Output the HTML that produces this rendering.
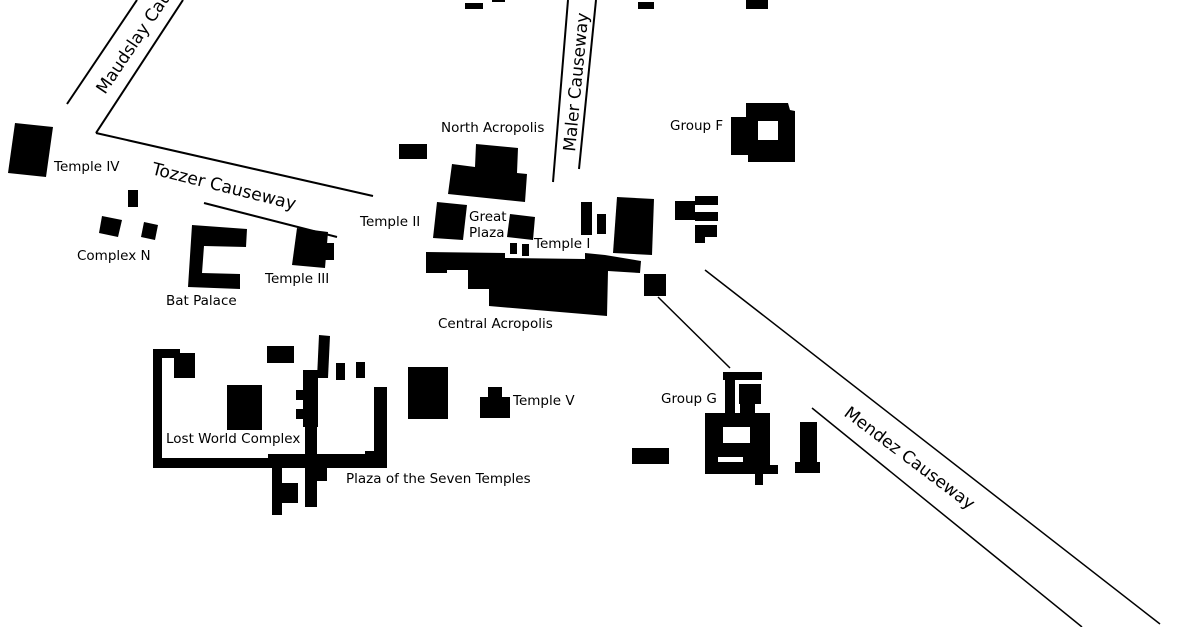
<!DOCTYPE html>
<html><head><meta charset="utf-8"><style>
html,body{margin:0;padding:0;background:#fff;}
svg{display:block}
.l{font-family:"DejaVu Sans","Liberation Sans",sans-serif;font-size:13.5px;fill:#000}
.c{font-family:"DejaVu Sans","Liberation Sans",sans-serif;font-size:17px;font-weight:normal;fill:#000}
</style></head><body>
<svg width="1200" height="627" viewBox="0 0 1200 627" xmlns="http://www.w3.org/2000/svg">
<rect width="1200" height="627" fill="#fff"/>
<g stroke="#000" fill="none" stroke-linecap="butt">
<line x1="67" y1="104" x2="137" y2="0" stroke-width="2"/>
<line x1="96" y1="133" x2="183" y2="0" stroke-width="2"/>
<line x1="96" y1="133" x2="373" y2="196" stroke-width="2"/>
<line x1="204" y1="203" x2="337" y2="237" stroke-width="2"/>
<line x1="553" y1="182" x2="568" y2="0" stroke-width="2"/>
<line x1="579" y1="169" x2="596" y2="0" stroke-width="2"/>
<line x1="705" y1="270" x2="1160" y2="624" stroke-width="1.5"/>
<line x1="812" y1="408" x2="1082" y2="627" stroke-width="1.5"/>
<line x1="658" y1="297" x2="730" y2="368" stroke-width="1.5"/>
</g>
<g fill="#000">
<rect x="465" y="3" width="18" height="6"/>
<rect x="492" y="0" width="13" height="2"/>
<rect x="638" y="2" width="16" height="7"/>
<rect x="746" y="0" width="22" height="9"/>
<polygon points="15,123 53,127 46,177 8,173"/>
<rect x="128" y="190" width="10" height="17"/>
<polygon points="102,216 122,220 118,237 99,233"/>
<polygon points="144,222 158,225 155,240 141,237"/>
<polygon points="192,225 247,229 246,247 204,246 202,273 240,274 240,289 188,287"/>
<polygon points="297,228 328,232 325,268 292,265"/>
<rect x="325" y="243" width="9" height="17"/>
<rect x="399" y="144" width="28" height="15"/>
<polygon points="476,144 518,148 517,173 527,174 525,202 448,194 452,164 475,167"/>
<polygon points="437,202 467,205 463,240 433,238"/>
<polygon points="510,214 535,217 533,240 507,237"/>
<rect x="510" y="243" width="7" height="11"/>
<rect x="522" y="244" width="7" height="12"/>
<polygon points="426,252 505,253 505,258 585,259 585,253 605,255 641,261 640,273 608,271 607,316 489,306 489,289 468,289 468,270 447,270 447,273 426,273"/>
<rect x="581" y="202" width="11" height="33"/>
<rect x="597" y="214" width="9" height="20"/>
<polygon points="617,197 654,199 652,255 613,253"/>
<rect x="644" y="274" width="22" height="22"/>
<polygon points="746,103 788,103 790,110 795,111 795,162 748,162 748,155 731,155 731,117 746,117"/>
<rect x="675" y="201" width="20" height="19"/>
<rect x="695" y="196" width="23" height="9"/>
<rect x="695" y="212" width="23" height="9"/>
<rect x="695" y="225" width="22" height="12"/>
<rect x="695" y="236" width="10" height="7"/>
<rect x="408" y="367" width="40" height="52"/>
<rect x="488" y="387" width="14" height="10"/>
<rect x="480" y="397" width="30" height="21"/>
<rect x="153" y="349" width="27" height="9"/>
<rect x="153" y="349" width="9" height="119"/>
<rect x="174" y="353" width="21" height="25"/>
<rect x="153" y="458" width="234" height="10"/>
<rect x="268" y="454" width="119" height="5"/>
<rect x="365" y="451" width="22" height="17"/>
<rect x="374" y="387" width="13" height="71"/>
<rect x="227" y="385" width="35" height="45"/>
<rect x="267" y="346" width="27" height="17"/>
<polygon points="319,335 330,336 328,378 317,378"/>
<rect x="303" y="370" width="15" height="57"/>
<rect x="305" y="427" width="12" height="80"/>
<rect x="296" y="390" width="9" height="10"/>
<rect x="296" y="409" width="9" height="10"/>
<rect x="336" y="363" width="9" height="17"/>
<rect x="356" y="362" width="9" height="16"/>
<rect x="272" y="463" width="10" height="52"/>
<rect x="282" y="483" width="16" height="20"/>
<rect x="317" y="465" width="10" height="16"/>
<rect x="723" y="372" width="39" height="8"/>
<rect x="725" y="380" width="10" height="33"/>
<rect x="739" y="384" width="22" height="20"/>
<rect x="740" y="403" width="15" height="12"/>
<rect x="705" y="413" width="65" height="53"/>
<rect x="705" y="465" width="73" height="9"/>
<rect x="755" y="473" width="8" height="12"/>
<rect x="632" y="448" width="37" height="16"/>
<rect x="800" y="422" width="17" height="41"/>
<rect x="795" y="462" width="25" height="11"/>
</g>
<g fill="#fff">
<rect x="758" y="121" width="20" height="19"/>
<rect x="723" y="427" width="27" height="16"/>
<rect x="718" y="457" width="25" height="5"/>
</g>
<text class="l" x="54" y="171">Temple IV</text>
<text class="l" x="77" y="260">Complex N</text>
<text class="l" x="166" y="305">Bat Palace</text>
<text class="l" x="265" y="283">Temple III</text>
<text class="l" x="360" y="226">Temple II</text>
<text class="l" x="441" y="132">North Acropolis</text>
<text class="l" x="670" y="130">Group F</text>
<text class="l" x="469" y="221">Great</text>
<text class="l" x="469" y="237">Plaza</text>
<text class="l" x="534" y="248">Temple I</text>
<text class="l" x="438" y="328">Central Acropolis</text>
<text class="l" x="513" y="405">Temple V</text>
<text class="l" x="661" y="403">Group G</text>
<text class="l" x="166" y="443">Lost World Complex</text>
<text class="l" x="346" y="483">Plaza of the Seven Temples</text>
<text class="c" x="105" y="95" transform="rotate(-56 105 95)">Maudslay Causeway</text>
<text class="c" x="151" y="174" transform="rotate(14 151 174)" style="font-size:17.3px">Tozzer Causeway</text>
<text class="c" x="575" y="152" transform="rotate(-84.5 575 152)">Maler Causeway</text>
<text class="c" x="843" y="415" transform="rotate(37 843 415)">Mendez Causeway</text>
</svg>
</body></html>
